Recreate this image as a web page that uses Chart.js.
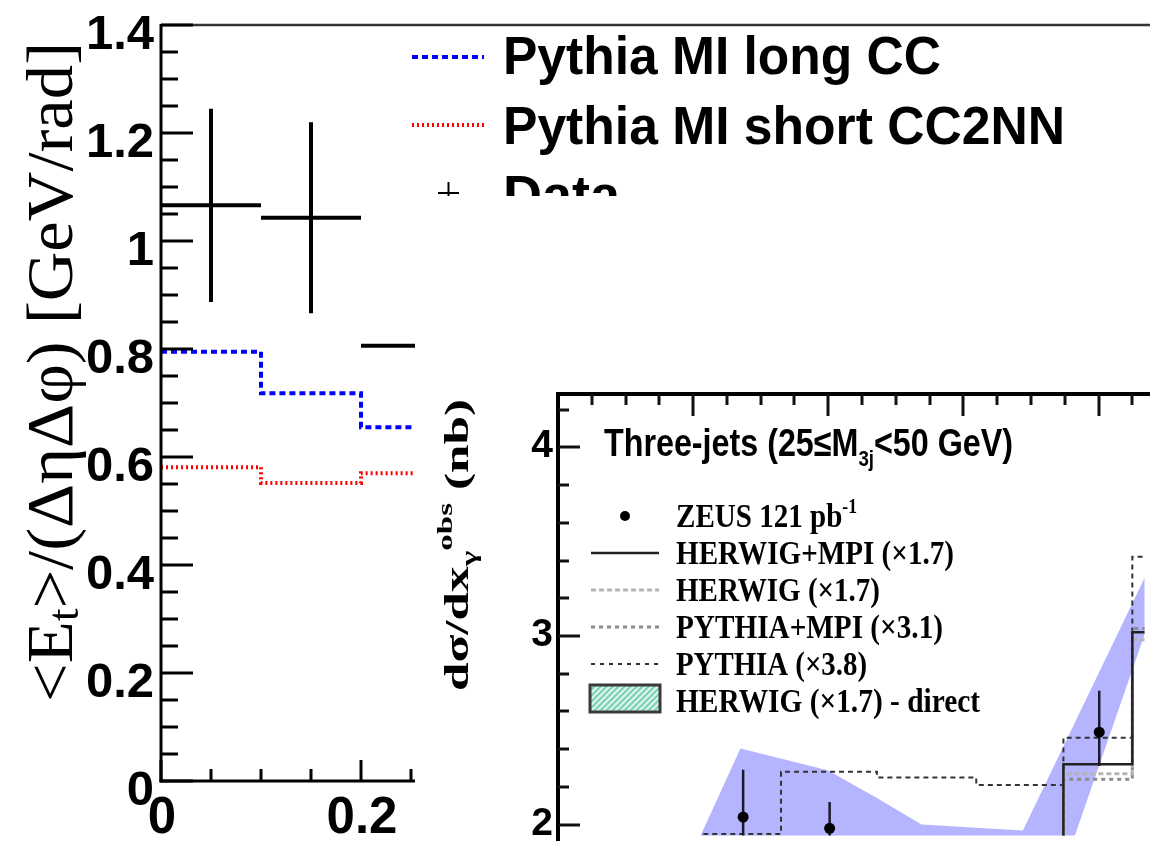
<!DOCTYPE html>
<html>
<head>
<meta charset="utf-8">
<script src="https://cdn.jsdelivr.net/npm/chart.js@4.4.1/dist/chart.umd.min.js"></script>
<style>
  html, body { margin: 0; padding: 0; background: #fff; overflow: hidden; }
  #wrap { position: relative; width: 1150px; height: 841px; }
  #main { position: absolute; left: 0; top: 0; }
  #inset { position: absolute; left: 415px; top: 380px; filter: blur(0.5px); }
</style>
</head>
<body>
<div id="wrap">
  <canvas id="main" width="1150" height="841"></canvas>
  <canvas id="inset" width="735" height="461"></canvas>
</div>
<script>
// ---------- main panel: transverse energy flow per unit area ----------
const binLow  = [0.0, 0.1, 0.2];
const binHigh = [0.1, 0.2, 0.4];
const dataEt  = [1.066, 1.043, 0.806];
const dataErr = [0.179, 0.177, 0.170];
const pythiaLongCC     = [0.795, 0.718, 0.655];
const pythiaShortCC2NN = [0.581, 0.552, 0.570];
const etTickLabels  = ['0', '0.2', '0.4', '0.6', '0.8', '1', '1.2', '1.4'];
const etTickValues  = [0, 0.2, 0.4, 0.6, 0.8, 1.0, 1.2, 1.4];
const etaTickLabels = ['0', '0.2'];
const etaTickValues = [0, 0.2];
const mainLegend = ['Pythia MI long CC', 'Pythia MI short CC2NN', 'Data'];

// ---------- inset: three-jet cross section in x_gamma^obs ----------
const xgTickValues = [2, 3, 4];
const xgTickLabels = ['2', '3', '4'];
const zeusX     = [0.274, 0.402, 0.801];
const zeusY     = [2.04, 1.98, 2.49];
const zeusErrUp = [0.25, 0.14, 0.22];
const zeusErrDn = [0.25, 0.14, 0.18];
const mcEdges     = [0.215, 0.33, 0.472, 0.619, 0.748, 0.85, 1.0];
const pythia38    = [1.95, 2.28, 2.25, 2.21, 2.46, 3.42];
const herwigMpi17 = [1.70, 1.75, 1.80, 1.85, 2.32, 3.02];
const herwig17    = [1.65, 1.70, 1.75, 1.80, 2.27, 2.98];
const pythiaMpi31 = [1.72, 1.78, 1.82, 1.88, 2.24, 3.04];
// uncertainty band outline (upper edge left to right, then lower edge back)
const bandX = [0.185, 0.270, 0.399, 0.472, 0.538, 0.688, 0.883, 0.883, 0.765, 0.746, 0.185];
const bandY = [1.738, 2.403, 2.288, 2.141, 2.000, 1.969, 3.419, 3.162, 1.942, 1.738, 1.738];
const insetTitle = ['Three-jets (25\u2264M', '3j', '<50 GeV)'];
const insetLegend = ['ZEUS 121 pb', 'HERWIG+MPI (\u00d71.7)', 'HERWIG (\u00d71.7)',
                     'PYTHIA+MPI (\u00d73.1)', 'PYTHIA (\u00d73.8)', 'HERWIG (\u00d71.7) - direct'];

const SANS = '"Liberation Sans", Arial, sans-serif';
const SERIF = '"Liberation Serif", "Times New Roman", serif';

// helpers -----------------------------------------------------------
function stepPoints(edges, vals) {
  const pts = vals.map((v, i) => ({ x: edges[i], y: v }));
  pts.push({ x: edges[vals.length], y: vals[vals.length - 1] });
  return pts;
}
function hBars(lo, hi, v) {
  const pts = [];
  v.forEach((val, i) => { pts.push({ x: lo[i], y: val }, { x: hi[i], y: val }, { x: hi[i], y: null }); });
  return pts;
}
function vBars(xs, v, up, dn) {
  const pts = [];
  v.forEach((val, i) => { pts.push({ x: xs[i], y: val - dn[i] }, { x: xs[i], y: val + up[i] }, { x: xs[i], y: null }); });
  return pts;
}
// draw text runs (with sub/superscripts) squeezed or stretched to a given width
function drawRuns(ctx, runs, x, y, width, rot) {
  let natural = 0;
  runs.forEach(r => { ctx.font = r.font; r.w = ctx.measureText(r.t).width; natural += r.w; });
  const s = width ? width / natural : 1;
  ctx.save();
  ctx.translate(x, y);
  if (rot) ctx.rotate(rot);
  ctx.scale(s, 1);
  ctx.textBaseline = 'alphabetic';
  ctx.textAlign = 'left';
  let cx = 0;
  runs.forEach(r => { ctx.font = r.font; ctx.fillText(r.t, cx, r.dy || 0); cx += r.w; });
  ctx.restore();
}
function line(ctx, x1, y1, x2, y2) {
  ctx.beginPath(); ctx.moveTo(x1, y1); ctx.lineTo(x2, y2); ctx.stroke();
}

// ---------- main panel ----------
const mainDecor = {
  id: 'mainDecor',
  beforeDraw(chart) {
    const ctx = chart.ctx;
    ctx.save(); ctx.fillStyle = '#fff'; ctx.fillRect(0, 0, chart.width, chart.height); ctx.restore();
  },
  afterDatasetsDraw(chart) {
    const { ctx, chartArea: a, scales: { x, y } } = chart;
    ctx.save();
    ctx.lineCap = 'butt';
    // top frame runs across the whole figure
    ctx.strokeStyle = '#333'; ctx.lineWidth = 2.5;
    line(ctx, a.left, a.top, chart.width, a.top);
    ctx.strokeStyle = '#000'; ctx.lineWidth = 3;
    line(ctx, a.left, a.top - 1, a.left, a.bottom + 1.5);
    line(ctx, a.left - 1.5, a.bottom, a.right, a.bottom);
    // y ticks: minor every 0.05, major every 0.2
    for (let k = 0; k <= 28; k++) {
      const py = Math.round(y.getPixelForValue(k * 0.05));
      line(ctx, a.left, py, a.left + (k % 4 === 0 ? 32 : 17), py);
    }
    // x ticks
    for (let k = 0; k <= 5; k++) {
      const px = Math.round(x.getPixelForValue(k * 0.05));
      if (px > a.right) continue;
      line(ctx, px, a.bottom, px, a.bottom - (k % 4 === 0 ? 21 : 12));
    }
    // tick labels
    ctx.fillStyle = '#000';
    ctx.font = 'bold 49px ' + SANS;
    ctx.textAlign = 'right'; ctx.textBaseline = 'alphabetic';
    etTickValues.forEach((v, i) => ctx.fillText(etTickLabels[i], 154, y.getPixelForValue(v) + 24));
    ctx.textAlign = 'center';
    ctx.font = 'bold 51px ' + SANS;
    etaTickValues.forEach((v, i) => ctx.fillText(etaTickLabels[i], x.getPixelForValue(v) + 1, 833));
    // y-axis title
    drawRuns(ctx, [
      { t: '<E', font: '66px ' + SERIF },
      { t: 't', font: '44px ' + SERIF, dy: 6 },
      { t: '>/(\u0394\u03b7\u0394\u03c6) [GeV/rad]', font: '66px ' + SERIF }
    ], 72, 702, 660, -Math.PI / 2);
    // legend (its lower part is hidden)
    ctx.save();
    ctx.beginPath(); ctx.rect(400, 27, 750, 169); ctx.clip();
    ctx.lineWidth = 4;
    ctx.strokeStyle = '#0000ff'; ctx.setLineDash([6, 4]);
    line(ctx, 412, 57, 484, 57);
    ctx.strokeStyle = '#ff0000'; ctx.setLineDash([2, 3]);
    line(ctx, 412, 125, 484, 125);
    ctx.setLineDash([]);
    ctx.strokeStyle = '#000'; ctx.lineWidth = 2;
    line(ctx, 438, 193, 459, 193);
    line(ctx, 448.5, 182, 448.5, 204);
    ctx.fillStyle = '#000';
    drawRuns(ctx, [{ t: mainLegend[0], font: 'bold 54px ' + SANS }], 503, 74, 438);
    drawRuns(ctx, [{ t: mainLegend[1], font: 'bold 54px ' + SANS }], 503, 144, 562);
    drawRuns(ctx, [{ t: mainLegend[2], font: 'bold 54px ' + SANS }], 503, 213, 0);
    ctx.restore();
    ctx.restore();
  }
};

new Chart(document.getElementById('main'), {
  type: 'line',
  data: {
    datasets: [
      { label: 'Data', data: hBars(binLow, binHigh, dataEt), borderColor: '#000', borderWidth: 4, pointRadius: 0, spanGaps: false },
      { label: 'Data errors', data: vBars(binLow.map((l, i) => (l + binHigh[i]) / 2), dataEt, dataErr, dataErr),
        borderColor: '#000', borderWidth: 4, pointRadius: 0, spanGaps: false },
      { label: mainLegend[0], data: stepPoints([...binLow, binHigh[binHigh.length - 1]], pythiaLongCC),
        stepped: true, borderColor: '#0000ff', borderWidth: 4, borderDash: [6, 4], pointRadius: 0 },
      { label: mainLegend[1], data: stepPoints([...binLow, binHigh[binHigh.length - 1]], pythiaShortCC2NN),
        stepped: true, borderColor: '#ff0000', borderWidth: 4, borderDash: [2, 3], pointRadius: 0 }
    ]
  },
  options: {
    responsive: false, animation: false, devicePixelRatio: 1,
    layout: { padding: { left: 161, top: 25, right: 735, bottom: 60 } },
    scales: {
      x: { type: 'linear', min: 0, max: 0.254, display: false },
      y: { type: 'linear', min: 0, max: 1.4, display: false }
    },
    plugins: { legend: { display: false }, tooltip: { enabled: false } }
  },
  plugins: [mainDecor]
});

// ---------- inset panel ----------
function hatchPattern(ctx) {
  const c = document.createElement('canvas'); c.width = 6; c.height = 6;
  const p = c.getContext('2d');
  p.fillStyle = '#d4f2e8'; p.fillRect(0, 0, 6, 6);
  p.strokeStyle = '#6fcca9'; p.lineWidth = 1.6;
  p.beginPath(); p.moveTo(-1, 7); p.lineTo(7, -1); p.moveTo(-4, 4); p.lineTo(4, -4); p.moveTo(2, 10); p.lineTo(10, 2); p.stroke();
  return ctx.createPattern(c, 'repeat');
}

const insetDecor = {
  id: 'insetDecor',
  beforeDraw(chart) {
    const ctx = chart.ctx;
    ctx.save(); ctx.fillStyle = '#fff'; ctx.fillRect(0, 0, chart.width, chart.height); ctx.restore();
  },
  afterDatasetsDraw(chart) {
    const { ctx, chartArea: a, scales: { x, y } } = chart;
    ctx.save();
    ctx.strokeStyle = '#000'; ctx.lineWidth = 4;
    line(ctx, a.left, a.top - 2, a.left, chart.height);
    line(ctx, a.left - 2, a.top, chart.width, a.top);
    ctx.lineWidth = 3; ctx.strokeStyle = '#111';
    // top ticks: minor every 0.05, major every 0.2
    for (let k = 1; k <= 20; k++) {
      const px = Math.round(x.getPixelForValue(k * 0.05));
      if (px > chart.width) break;
      line(ctx, px, a.top, px, a.top + (k % 4 === 0 ? 22 : 11));
    }
    // left ticks: minor every 0.2, major every 1
    for (let k = 10; k <= 21; k++) {
      const py = Math.round(y.getPixelForValue(k * 0.2));
      if (py > chart.height) continue;
      line(ctx, a.left, py, a.left + (k % 5 === 0 ? 22 : 11), py);
    }
    ctx.fillStyle = '#000';
    ctx.font = 'bold 39px ' + SANS;
    ctx.textAlign = 'right'; ctx.textBaseline = 'alphabetic';
    xgTickValues.forEach((v, i) => ctx.fillText(xgTickLabels[i], 138, y.getPixelForValue(v) + 10));
    // y-axis title
    drawRuns(ctx, [
      { t: 'd\u03c3/dx', font: 'bold 34px ' + SERIF },
      { t: '\u03b3', font: 'bold 22px ' + SERIF, dy: 8 },
      { t: 'obs', font: 'bold 22px ' + SERIF, dy: -16 },
      { t: ' (nb)', font: 'bold 34px ' + SERIF }
    ], 53, 311, 292, -Math.PI / 2);
    // title
    drawRuns(ctx, [
      { t: insetTitle[0], font: 'bold 38px ' + SANS },
      { t: insetTitle[1], font: 'bold 22px ' + SANS, dy: 10 },
      { t: insetTitle[2], font: 'bold 38px ' + SANS }
    ], 189, 76, 409);
    // legend
    const tx = 261, bases = [147, 184, 221, 258, 295, 332], ends = [427, 539, 465, 528, 452, 565];
    ctx.fillStyle = '#000';
    drawRuns(ctx, [{ t: insetLegend[0], font: 'bold 33px ' + SERIF },
                   { t: '-1', font: 'bold 20px ' + SERIF, dy: -14 }], tx, bases[0], 442 - tx);
    for (let i = 1; i < 6; i++) drawRuns(ctx, [{ t: insetLegend[i], font: 'bold 33px ' + SERIF }], tx, bases[i], ends[i] - tx);
    ctx.beginPath(); ctx.arc(210, 136, 5, 0, Math.PI * 2); ctx.fill();
    ctx.lineWidth = 2.5; ctx.strokeStyle = '#222'; line(ctx, 176, 173, 244, 173);
    ctx.lineWidth = 3; ctx.strokeStyle = '#b4b4b4'; ctx.setLineDash([5, 3]); line(ctx, 176, 210, 244, 210);
    ctx.strokeStyle = '#8a8a8a'; ctx.setLineDash([4, 4]); line(ctx, 176, 247, 244, 247);
    ctx.lineWidth = 2; ctx.strokeStyle = '#333'; ctx.setLineDash([4, 5]); line(ctx, 176, 284, 244, 284);
    ctx.setLineDash([]);
    ctx.fillStyle = hatchPattern(ctx); ctx.fillRect(175, 305, 70, 27);
    ctx.lineWidth = 3; ctx.strokeStyle = '#3a3a3a'; ctx.strokeRect(175, 305, 70, 27);
    ctx.restore();
  }
};

const mcLine = (label, vals, color, width, dash) => ({
  label, data: stepPoints(mcEdges, vals), stepped: true, borderColor: color,
  borderWidth: width, borderDash: dash, pointRadius: 0, order: 5
});

new Chart(document.getElementById('inset'), {
  type: 'line',
  data: {
    datasets: [
      { label: insetLegend[0], data: zeusX.map((v, i) => ({ x: v, y: zeusY[i] })), showLine: false,
        pointRadius: 5.5, pointBackgroundColor: '#000', pointBorderWidth: 0, order: 1 },
      { label: 'ZEUS errors', data: vBars(zeusX, zeusY, zeusErrUp, zeusErrDn), borderColor: '#1a1a2a',
        borderWidth: 2.5, pointRadius: 0, spanGaps: false, order: 2 },
      mcLine(insetLegend[1], herwigMpi17, '#222', 2.5, []),
      mcLine(insetLegend[2], herwig17, '#b4b4b4', 3, [5, 3]),
      mcLine(insetLegend[3], pythiaMpi31, '#8a8a8a', 3, [4, 4]),
      mcLine(insetLegend[4], pythia38, '#333', 2, [5, 4]),
      { label: 'band', data: bandX.map((v, i) => ({ x: v, y: bandY[i] })), borderWidth: 0,
        borderColor: 'rgba(0,0,0,0)', backgroundColor: 'rgb(180,180,255)', fill: 'shape',
        pointRadius: 0, tension: 0, order: 10 }
    ]
  },
  options: {
    responsive: false, animation: false, devicePixelRatio: 1,
    layout: { padding: { left: 143, top: 14, right: 0, bottom: 0 } },
    scales: {
      x: { type: 'linear', min: 0, max: 0.868, display: false },
      y: { type: 'linear', min: 1.942, max: 4.283, display: false }
    },
    plugins: { legend: { display: false }, tooltip: { enabled: false } }
  },
  plugins: [insetDecor]
});
</script>
</body>
</html>
